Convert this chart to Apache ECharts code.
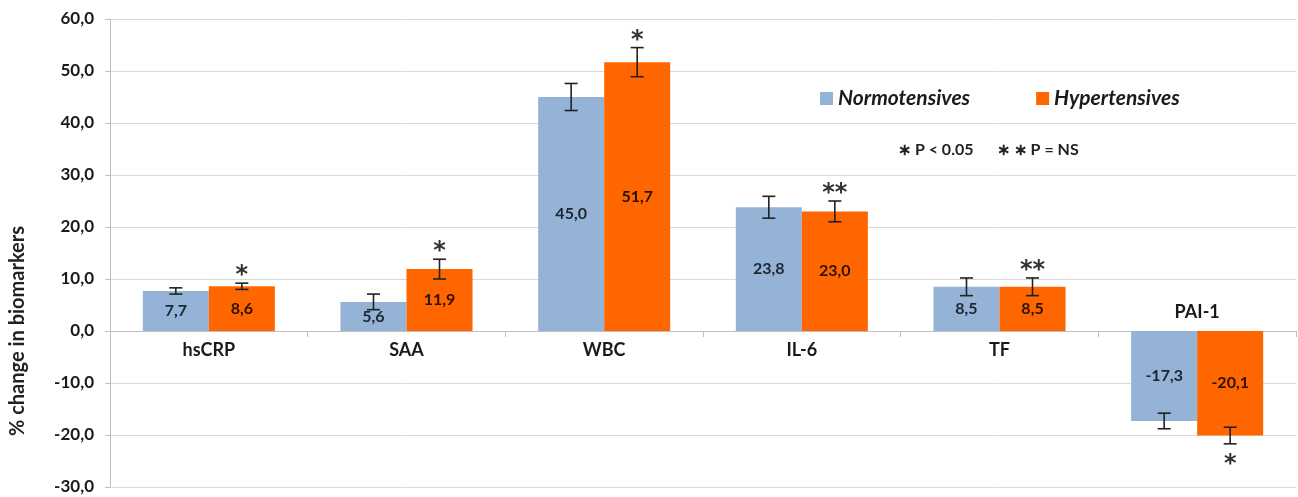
<!DOCTYPE html>
<html>
<head>
<meta charset="utf-8">
<script src="https://cdn.jsdelivr.net/npm/echarts@6/dist/echarts.min.js"></script>
<style>
  html, body { margin: 0; padding: 0; background: #fff; }
  #chart { width: 1298px; height: 497px; }
</style>
</head>
<body>
<div id="chart"></div>
<script>
const categories = ['hsCRP', 'SAA', 'WBC', 'IL-6', 'TF', 'PAI-1']
const normotensives = [7.7, 5.6, 45.0, 23.8, 8.5, -17.3]
const hypertensives = [8.6, 11.9, 51.7, 23.0, 8.5, -20.1]
const normoErr = [0.6, 1.5, 2.6, 2.1, 1.7, 1.5]
const hyperErr = [0.6, 1.9, 2.8, 2.0, 1.7, 1.6]
const hyperMarks = ['*', '*', '*', '**', '**', '*']
const yMin = -30
const yMax = 60
const yStep = 10

const FONT = 'Lato, "Open Sans", sans-serif'
const BAR_RATIO = 0.334 // bar width as share of category band

const comma = v => v.toFixed(1).replace('.', ',')

// categories whose bars go below zero get their name drawn above the axis
const belowZero = categories.map((c, i) => normotensives[i] < 0 && hypertensives[i] < 0)

function errorSeries (name, values, errs, side, marks) {
  return {
    name: name,
    type: 'custom',
    z: 5,
    silent: true,
    data: values.map((v, i) => [i, v, errs[i]]),
    renderItem: function (params, api) {
      const idx = api.value(0)
      const v = api.value(1)
      const e = api.value(2)
      const mark = marks ? marks[params.dataIndex] : ''
      const band = api.size([1, 0])[0]
      const x = api.coord([idx, 0])[0] + side * band * BAR_RATIO / 2
      const yHi = api.coord([idx, v + e])[1]
      const yLo = api.coord([idx, v - e])[1]
      const cap = 6.5
      const st = { stroke: '#222', lineWidth: 1.6 }
      const children = [
        { type: 'line', shape: { x1: x, y1: yHi, x2: x, y2: yLo }, style: st },
        { type: 'line', shape: { x1: x - cap, y1: yHi, x2: x + cap, y2: yHi }, style: st },
        { type: 'line', shape: { x1: x - cap, y1: yLo, x2: x + cap, y2: yLo }, style: st }
      ]
      if (mark) {
        children.push({
          type: 'text',
          style: {
            text: mark,
            x: x,
            y: v >= 0 ? yHi + 5 : yLo + 33,
            align: 'center',
            verticalAlign: 'bottom',
            font: 'bold 24px "DejaVu Sans"',
            fill: '#333'
          }
        })
      }
      return { type: 'group', children: children }
    }
  }
}

const chart = echarts.init(document.getElementById('chart'))
const option = {
  animation: false,
  backgroundColor: '#fff',
  textStyle: { fontFamily: FONT },
  grid: { left: 110, right: 2, top: 19, bottom: 10, containLabel: false, outerBoundsMode: 'none' },
  legend: {
    data: ['Normotensives', 'Hypertensives'],
    left: 815,
    top: 83,
    icon: 'rect',
    itemWidth: 13,
    itemHeight: 13,
    itemGap: 66,
    textStyle: {
      fontFamily: FONT,
      fontStyle: 'italic',
      fontWeight: 'bold',
      fontSize: 21,
      color: '#1a1a1a'
    }
  },
  graphic: [
    {
      type: 'text',
      left: 8,
      top: 226,
      rotation: Math.PI / 2,
      style: {
        text: '% change in biomarkers',
        font: 'bold 20px ' + FONT,
        fill: '#222'
      }
    },
    {
      type: 'text',
      left: 898,
      top: 142,
      style: {
        text: '∗ P < 0.05      ∗ ∗ P = NS',
        font: 'bold 16px ' + FONT,
        fill: '#222'
      }
    }
  ],
  xAxis: {
    type: 'category',
    data: categories,
    axisLine: { onZero: true, lineStyle: { color: '#bfbfbf', width: 1 } },
    axisTick: { show: true, length: 6, lineStyle: { color: '#bfbfbf' } },
    axisLabel: { show: false }
  },
  yAxis: {
    type: 'value',
    min: yMin,
    max: yMax,
    interval: yStep,
    axisLine: { show: true, lineStyle: { color: '#bfbfbf' } },
    axisTick: { show: true, length: 5, lineStyle: { color: '#bfbfbf' } },
    axisLabel: {
      margin: 16,
      fontFamily: FONT,
      fontWeight: 'bold',
      fontSize: 17,
      color: '#1a1a1a',
      formatter: v => comma(v)
    },
    splitLine: { lineStyle: { color: '#d9d9d9', width: 1 } }
  },
  series: [
    {
      name: 'Normotensives',
      type: 'bar',
      barWidth: (BAR_RATIO * 100) + '%',
      barGap: '0%',
      itemStyle: { color: '#95b3d7' },
      label: {
        show: true,
        position: 'inside',
        fontFamily: FONT,
        fontWeight: 'bold',
        fontSize: 16,
        color: '#1c2530',
        formatter: p => comma(p.value)
      },
      data: normotensives
    },
    {
      name: 'Hypertensives',
      type: 'bar',
      barWidth: (BAR_RATIO * 100) + '%',
      barGap: '0%',
      itemStyle: { color: '#ff6600' },
      label: {
        show: true,
        position: 'inside',
        fontFamily: FONT,
        fontWeight: 'bold',
        fontSize: 16,
        color: '#2b1200',
        formatter: p => comma(p.value)
      },
      data: hypertensives
    },
    errorSeries('err-n', normotensives, normoErr, -1, null),
    errorSeries('err-h', hypertensives, hyperErr, 1, hyperMarks),
    {
      // category names sit on the zero line: below it, or above it for negative bars
      name: 'category-labels',
      type: 'scatter',
      symbolSize: 0,
      silent: true,
      itemStyle: { opacity: 1 },
      data: categories.map((c, i) => ({
        value: [i, 0],
        label: { position: belowZero[i] ? 'top' : 'bottom' }
      })),
      label: {
        show: true,
        distance: 10,
        fontFamily: FONT,
        fontWeight: 'bold',
        fontSize: 18,
        color: '#1a1a1a',
        formatter: p => categories[p.value[0]]
      }
    }
  ]
}
chart.setOption(option)
window.addEventListener('resize', () => chart.resize())
</script>
</body>
</html>
